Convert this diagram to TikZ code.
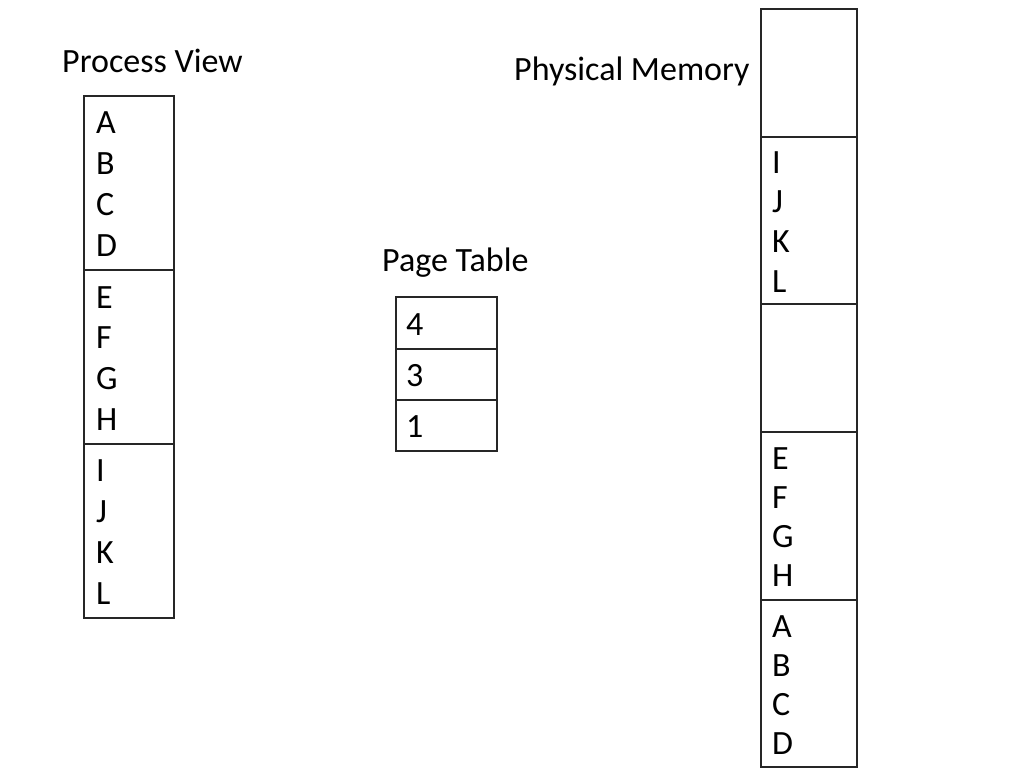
\documentclass[tikz,border=0pt]{standalone}
\usepackage{fontspec}
\setmainfont{Carlito}
\begin{document}
\begin{tikzpicture}[x=1pt,y=-1pt,
  cell/.style={draw=black!85,line width=1.3pt},
  lbl/.style={anchor=base west,inner sep=0pt,font=\fontsize{34}{41}\selectfont},
  ttl/.style={anchor=base west,inner sep=0pt,font=\fontsize{34}{41}\selectfont}]
\useasboundingbox (0,0) rectangle (1024,768);
% titles
\node[ttl] (tpv) at (62,72) {Process View};
\node[ttl] (tpm) at (514,81) {Physical Memory};
\node[ttl] (tpt) at (382,271) {Page Table};
% process view
\draw[cell] (84,96) rectangle (174,270);
\draw[cell] (84,270) rectangle (174,444);
\draw[cell] (84,444) rectangle (174,618);
\foreach \t [count=\i from 0] in {A,B,C,D}
  \node[lbl] (pv\t) at (96,133+41*\i) {\t};
\foreach \t [count=\i from 0] in {E,F,G,H}
  \node[lbl] (pv\t) at (96,308+40.7*\i) {\t};
\foreach \t [count=\i from 0] in {I,J,K,L}
  \node[lbl] (pv\t) at (96,481+41*\i) {\t};
% page table
\draw[cell] (396,297) rectangle (497,349);
\draw[cell] (396,349) rectangle (497,400);
\draw[cell] (396,400) rectangle (497,451);
\node[lbl] (pt1) at (406,335) {4};
\node[lbl] (pt2) at (406,386) {3};
\node[lbl] (pt3) at (406,437) {1};
% physical memory
\draw[cell] (761,9) rectangle (857,137);
\draw[cell] (761,137) rectangle (857,304);
\draw[cell] (761,304) rectangle (857,432);
\draw[cell] (761,432) rectangle (857,600);
\draw[cell] (761,600) rectangle (857,767);
\foreach \t [count=\i from 0] in {I,J,K,L}
  \node[lbl] (pm\t) at (772,173+39.7*\i) {\t};
\foreach \t [count=\i from 0] in {E,F,G,H}
  \node[lbl] (pm\t) at (772,469+39.3*\i) {\t};
\foreach \t [count=\i from 0] in {A,B,C,D}
  \node[lbl] (pm\t) at (772,637+39*\i) {\t};
\end{tikzpicture}
\end{document}
